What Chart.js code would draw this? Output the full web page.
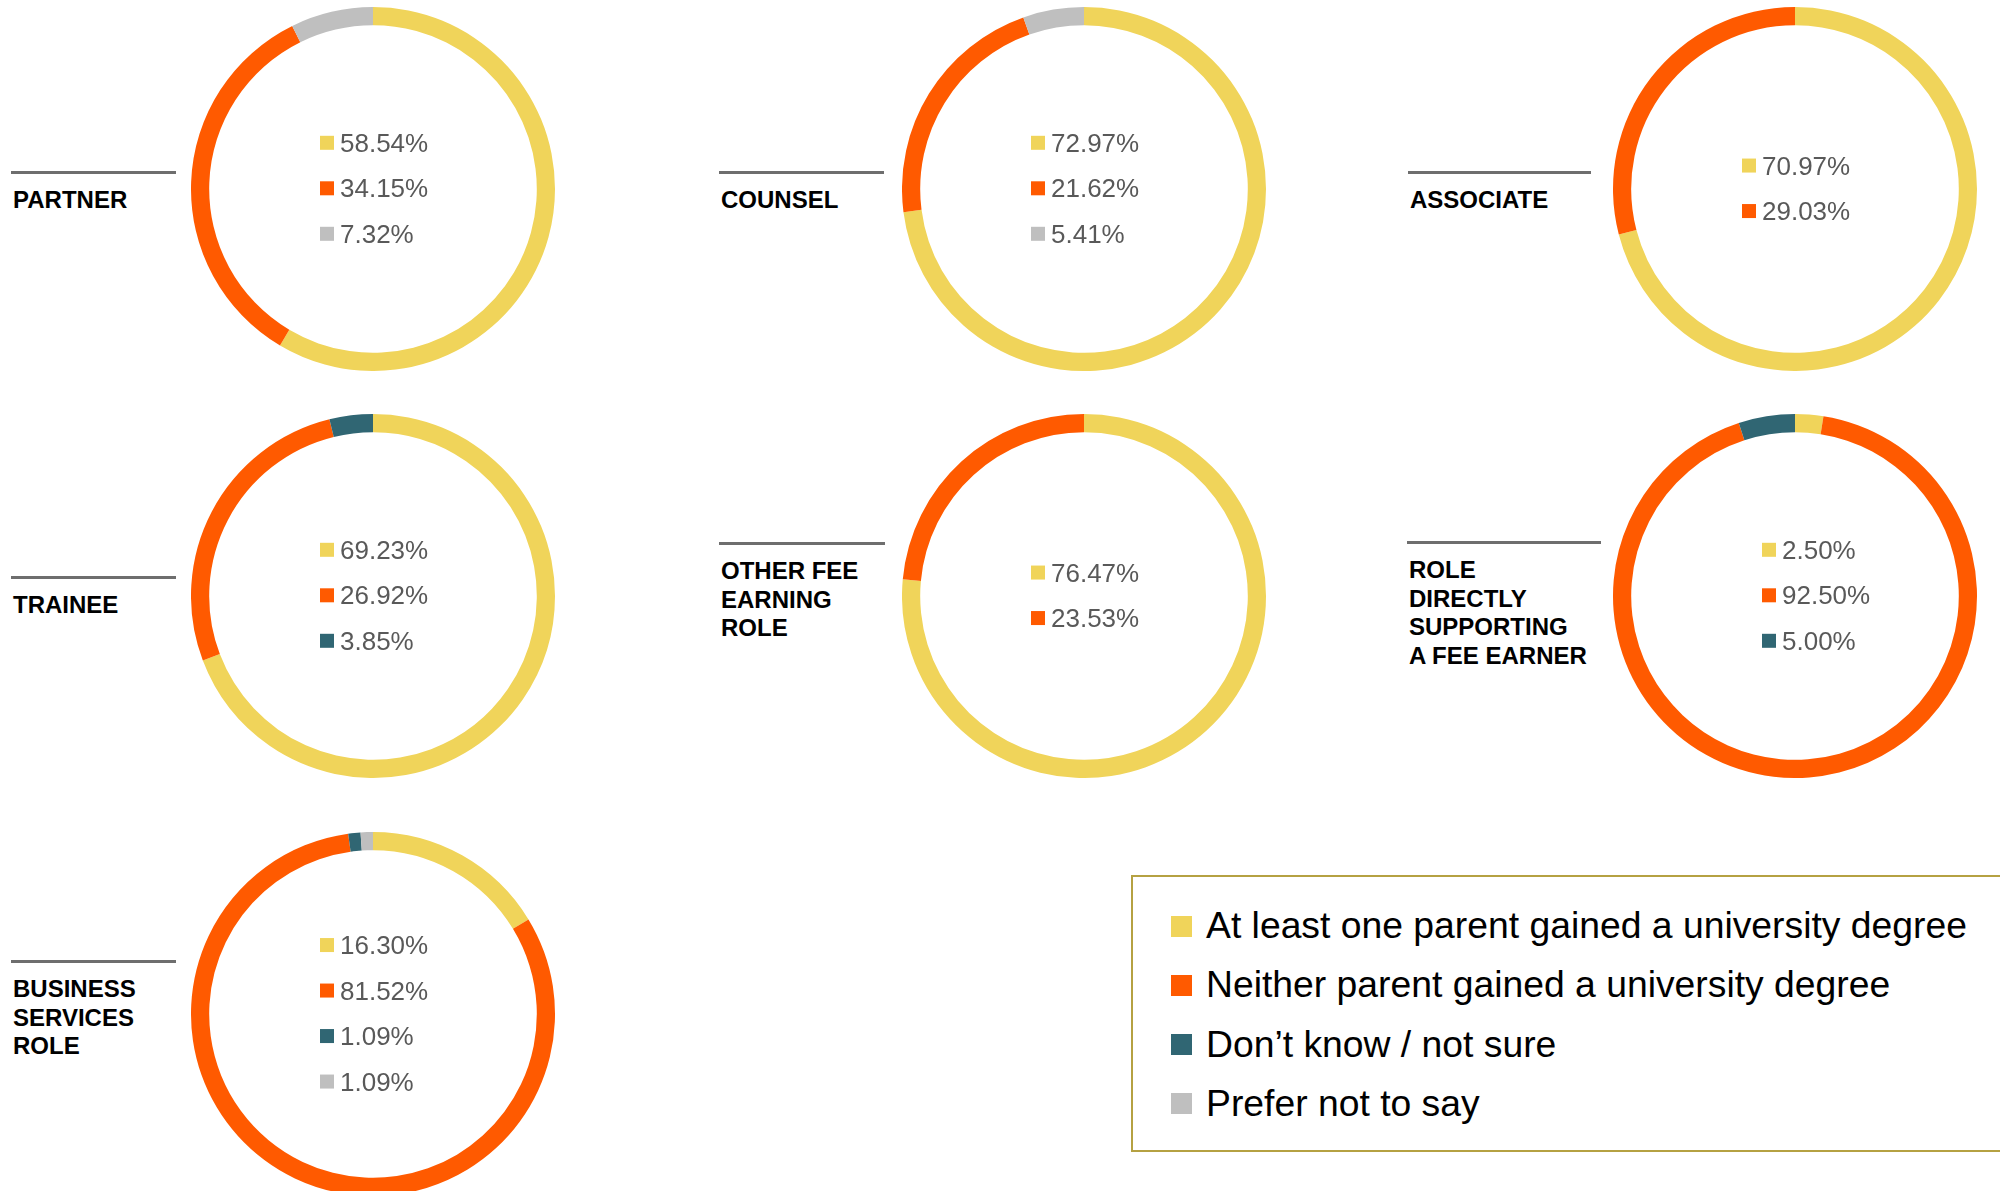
<!DOCTYPE html>
<html>
<head>
<meta charset="utf-8">
<script src="https://cdn.jsdelivr.net/npm/chart.js@4/dist/chart.umd.min.js"></script>
<style>
  html, body { margin: 0; padding: 0; background: #ffffff; }
  body { width: 2000px; height: 1191px; position: relative; overflow: hidden; font-family: "Liberation Sans", Arial, sans-serif; }
  .donut { position: absolute; width: 364px; height: 364px; }
  .rule { position: absolute; height: 2.5px; background: #6e6e6e; }
  .role { position: absolute; font-weight: bold; font-size: 24px; line-height: 28.4px; color: #000; white-space: nowrap; }
  .legend { position: absolute; left: 1131px; top: 875px; width: 900px; height: 277px; border: 2.5px solid #b5a142; box-sizing: border-box; }
  .lg-item { position: absolute; left: 38px; height: 24px; }
  .lg-sw { position: absolute; left: 0; top: 0; width: 21px; height: 21px; }
  .lg-tx { position: absolute; left: 35px; top: -12.5px; font-size: 37.3px; line-height: 44px; white-space: nowrap; color: #000; }
</style>
</head>
<body>
<script>
// ---- data ----
const roles = ['PARTNER', 'COUNSEL', 'ASSOCIATE', 'TRAINEE', 'OTHER FEE EARNING ROLE', 'ROLE DIRECTLY SUPPORTING A FEE EARNER', 'BUSINESS SERVICES ROLE'];
const roleLines = [['PARTNER'], ['COUNSEL'], ['ASSOCIATE'], ['TRAINEE'], ['OTHER FEE', 'EARNING', 'ROLE'], ['ROLE', 'DIRECTLY', 'SUPPORTING', 'A FEE EARNER'], ['BUSINESS', 'SERVICES', 'ROLE']];
const categories = ['At least one parent gained a university degree', 'Neither parent gained a university degree', 'Don\u2019t know / not sure', 'Prefer not to say'];
const atLeastOne = [58.54, 72.97, 70.97, 69.23, 76.47, 2.50, 16.30];
const neither    = [34.15, 21.62, 29.03, 26.92, 23.53, 92.50, 81.52];
const dontKnow   = [0, 0, 0, 3.85, 0, 5.00, 1.09];
const preferNot  = [7.32, 5.41, 0, 0, 0, 0, 1.09];

// ---- styling / layout ----
const colors = ['#f0d45a', '#ff5a00', '#306673', '#bfbfbf'];
const centers = [[373, 189], [1084, 189], [1795, 189], [373, 596], [1084, 596], [1795, 596], [373, 1014]];
const labelOffset = [-53, -53, -53, -53, -53, -33, -53];
const rules = [[11, 176, 172], [719, 884, 172], [1408, 1591, 172], [11, 176, 577], [719, 885, 543], [1407, 1601, 542], [11, 176, 961]];

const centerLabels = {
  id: 'centerLabels',
  afterDraw(chart, args, opts) {
    const ctx = chart.ctx;
    const meta = chart.getDatasetMeta(0);
    if (!meta.data.length) return;
    const cx = meta.data[0].x, cy = meta.data[0].y;
    const vals = chart.data.datasets[0].data;
    const items = [];
    vals.forEach((v, i) => { if (v > 0) items.push([v, chart.data.datasets[0].backgroundColor[i]]); });
    const n = items.length, step = 45.5;
    ctx.save();
    ctx.font = '26px "Liberation Sans", Arial, sans-serif';
    ctx.textBaseline = 'alphabetic';
    ctx.textAlign = 'left';
    items.forEach((it, k) => {
      const y = cy + (k - (n - 1) / 2) * step - 1.2;
      const x = cx + opts.offset;
      ctx.fillStyle = it[1];
      ctx.fillRect(x, y - 6.5, 14, 14);
      ctx.fillStyle = '#595959';
      ctx.fillText(it[0].toFixed(2) + '%', x + 20, y + 9.5);
    });
    ctx.restore();
  }
};

roles.forEach((role, i) => {
  const [cx, cy] = centers[i];
  const wrap = document.createElement('div');
  wrap.className = 'donut';
  wrap.style.left = (cx - 182) + 'px';
  wrap.style.top = (cy - 182) + 'px';
  const cv = document.createElement('canvas');
  cv.width = 364; cv.height = 364;
  wrap.appendChild(cv);
  document.body.appendChild(wrap);

  new Chart(cv, {
    type: 'doughnut',
    data: {
      labels: categories,
      datasets: [{
        data: [atLeastOne[i], neither[i], dontKnow[i], preferNot[i]],
        backgroundColor: colors,
        borderWidth: 0
      }]
    },
    options: {
      responsive: false,
      animation: false,
      devicePixelRatio: 1,
      cutout: '90%',
      layout: { padding: 0 },
      plugins: { legend: { display: false }, tooltip: { enabled: false }, centerLabels: { offset: labelOffset[i] } }
    },
    plugins: [centerLabels]
  });

  const r = rules[i];
  const rule = document.createElement('div');
  rule.className = 'rule';
  rule.style.left = r[0] + 'px';
  rule.style.width = (r[1] - r[0]) + 'px';
  rule.style.top = (r[2] - 1) + 'px';
  document.body.appendChild(rule);

  const lab = document.createElement('div');
  lab.className = 'role';
  lab.style.left = (r[0] + 2) + 'px';
  lab.style.top = (r[2] + 14.4) + 'px';
  lab.innerHTML = roleLines[i].join('<br>');
  document.body.appendChild(lab);
});

// legend
const lg = document.createElement('div');
lg.className = 'legend';
categories.forEach((c, i) => {
  const it = document.createElement('div');
  it.className = 'lg-item';
  it.style.top = (38.5 + i * 59.3) + 'px';
  const sw = document.createElement('div');
  sw.className = 'lg-sw';
  sw.style.background = colors[i];
  const tx = document.createElement('div');
  tx.className = 'lg-tx';
  tx.textContent = c;
  it.appendChild(sw); it.appendChild(tx);
  lg.appendChild(it);
});
document.body.appendChild(lg);
</script>
</body>
</html>
